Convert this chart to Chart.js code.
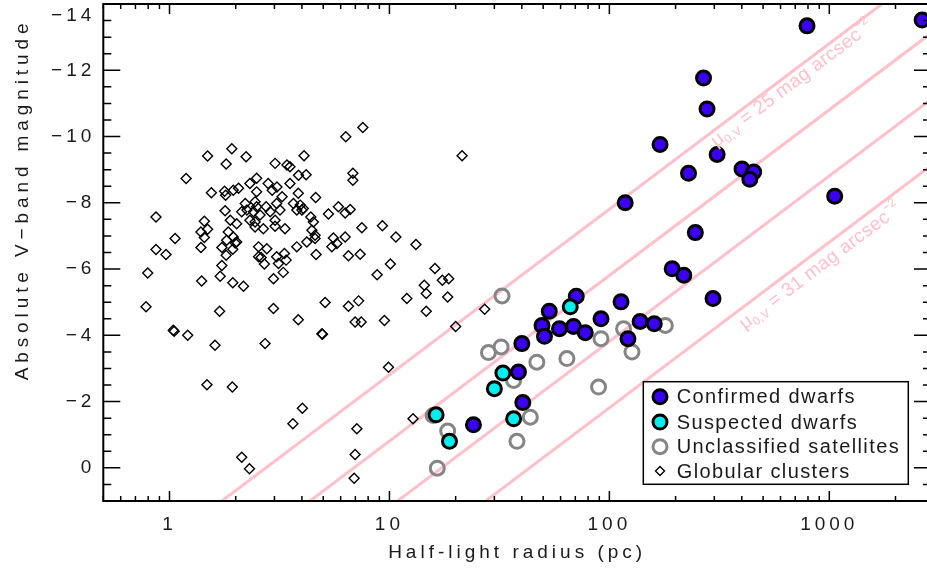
<!DOCTYPE html>
<html><head><meta charset="utf-8">
<script src="https://cdn.jsdelivr.net/npm/chart.js@4.4.1/dist/chart.umd.min.js"></script>
<style>html,body{margin:0;padding:0;background:#fff;overflow:hidden;width:927px;height:574px}canvas{display:block}</style>
</head><body>
<canvas id="c" width="933" height="574"></canvas>
<script>
// ---------------- data ----------------
const confirmedR = [792, 2643, 268, 278, 170, 309, 229, 401, 453, 435, 118, 1058, 246, 193, 218, 296, 91.6, 113, 138, 160, 121.5, 70.7, 53.3, 49.4, 50.7, 59.3, 68.7, 77.7, 40.0, 38.6, 40.4, 24.1];
const confirmedM = [-13.34, -13.52, -11.77, -10.83, -9.76, -9.46, -8.89, -9.02, -8.93, -8.71, -8.00, -8.20, -7.10, -6.01, -5.81, -5.11, -4.50, -5.01, -4.42, -4.35, -3.90, -5.18, -4.73, -4.30, -3.97, -4.20, -4.27, -4.08, -3.75, -2.89, -1.97, -1.30];

const suspectedR = [66.4, 32.8, 30.0, 16.3, 36.7, 18.75];
const suspectedM = [-4.86, -2.86, -2.39, -1.60, -1.48, -0.80];

const unclassifiedR = [179.6, 116, 91.6, 126.7, 89.3, 32.5, 32.2, 28.2, 46.8, 64.1, 36.7, 15.8, 43.7, 18.4, 38.0, 16.5];
const unclassifiedM = [-4.30, -4.20, -3.90, -3.50, -2.44, -5.19, -3.65, -3.48, -3.19, -3.30, -2.64, -1.58, -1.53, -1.11, -0.80, 0.01];

const globularR = [6.33, 7.57, 1.92, 1.49, 2.23, 1.81, 3.02, 3.42, 3.53, 4.09, 21.4, 1.19, 2.49, 3.86, 4.18, 6.82, 6.82,
  2.32, 2.81, 3.08, 3.53, 1.55, 1.78, 1.80, 1.95, 2.06, 2.49, 2.93, 3.25, 3.85, 4.62,
  2.21, 2.45, 2.49, 2.75, 3.07, 3.18, 3.66, 3.93, 4.00, 1.79, 2.13, 2.25, 2.41, 2.87, 4.06, 4.39, 4.51, 5.28, 5.86, 6.29, 6.63, 0.868, 2.58, 3.79,
  1.44, 1.39, 1.49, 1.44, 1.89, 1.85, 2.02, 1.95, 1.82, 2.02, 1.06, 2.32, 2.45, 2.45, 2.67, 3.02, 3.02, 3.35, 4.44, 4.59, 4.59, 4.21, 5.56, 6.29, 5.77, 5.47, 7.49, 9.29, 10.7, 13.2, 1.99,
  0.868, 0.964, 1.39, 1.73, 1.81, 1.94, 2.54, 2.77, 3.07, 3.33, 2.54, 3.79, 4.64, 6.51, 7.36, 2.61, 2.70, 3.13, 3.39, 3.29, 2.97,
  0.796, 1.40, 1.73, 1.70, 1.94, 2.17, 10.1, 8.79, 16.1, 17.4, 18.6, 14.4, 14.7, 12.0, 18.4,
  0.782, 1.69, 2.97, 3.85, 5.10, 6.51, 7.24, 6.98, 7.44, 1.04, 1.05, 1.21, 1.61, 2.72, 4.93, 4.96, 9.49, 14.7, 27.1, 20.0,
  1.48, 1.93, 9.90, 4.02, 3.64, 2.13, 2.31, 7.11, 6.98, 6.91, 12.8];
const globularM = [-9.99, -10.27, -9.63, -9.41, -9.39, -9.17, -9.19, -9.14, -9.09, -9.42, -9.42, -8.73, -8.74, -8.83, -8.85, -8.89, -8.68,
  -8.58, -8.58, -8.48, -8.58, -8.30, -8.35, -8.23, -8.38, -8.44, -8.33, -8.38, -8.18, -8.29, -8.16,
  -7.98, -8.03, -7.88, -7.88, -7.98, -7.78, -7.98, -7.93, -7.78, -7.76, -7.73, -7.78, -7.73, -7.73, -7.83, -7.57, -7.42, -7.66, -7.88, -7.69, -7.80, -7.57, -7.63, -7.78,
  -7.44, -7.12, -7.20, -6.95, -7.47, -7.12, -7.37, -6.97, -6.87, -6.82, -6.92, -7.47, -7.42, -7.27, -7.22, -7.47, -7.29, -7.22, -7.17, -7.02, -6.92, -6.82, -6.94, -6.97, -6.77, -6.67, -7.25, -7.31, -6.97, -6.74, -6.79,
  -6.59, -6.44, -6.65, -6.65, -6.42, -6.60, -6.67, -6.61, -6.37, -6.47, -6.37, -6.67, -6.44, -6.40, -6.45, -6.35, -6.15, -6.17, -6.27, -5.90, -5.71,
  -5.88, -5.64, -6.11, -5.78, -5.59, -5.48, -6.15, -5.83, -6.02, -5.66, -5.71, -5.51, -5.26, -5.11, -5.16,
  -4.86, -4.73, -4.81, -4.47, -4.99, -4.88, -5.04, -4.40, -4.40, -4.15, -4.12, -4.00, -3.70, -3.75, -4.05, -4.03, -4.45, -4.73, -4.79, -4.27,
  -2.51, -2.44, -3.04, -1.80, -1.33, -0.32, 0.03, -1.18, -0.40, 0.31, -1.48];

// constant surface-brightness lines (mag arcsec^-2): radius where each line meets M=+1 and M=-14
const muValues = [25, 27, 29, 31];
const muLineRFaint = [1.73, 4.35, 10.9, 27.4];
const muLineRBright = [1734, 4355, 10930, 27450];
const muLabelValues = [25, 31];
const muLabelAnchorR = [279, 366];

const seriesNames = ['Confirmed dwarfs', 'Suspected dwarfs', 'Unclassified satellites', 'Globular clusters'];
const xTickValues = [1, 10, 100, 1000];
const yTickValues = [-14, -12, -10, -8, -6, -4, -2, 0];
const xTitle = 'Half-light radius (pc)';
const yTitle = 'Absolute V\u2212band magnitude';

// ---------------- build ----------------
const zip = (r, m) => r.map((v, i) => ({x: v, y: m[i]}));
const FONT = 'Liberation Sans, Arial, sans-serif';
const TXT = '#1a1a1a';
const PINK = '#ffc0cb';

const datasets = [];
muValues.forEach((mu, i) => {
  datasets.push({
    type: 'line', label: 'mu' + mu,
    data: [{x: muLineRFaint[i], y: 1}, {x: muLineRBright[i], y: -14}],
    borderColor: PINK, borderWidth: 3, pointRadius: 0, fill: false, clip: 0, order: 10
  });
});
datasets.push({type: 'scatter', label: seriesNames[2], data: zip(unclassifiedR, unclassifiedM),
  pointStyle: 'circle', pointRadius: 7, borderWidth: 3, borderColor: '#858585', backgroundColor: 'rgba(0,0,0,0)', order: 8});
datasets.push({type: 'scatter', label: seriesNames[3], data: zip(globularR, globularM),
  pointStyle: 'rectRot', pointRadius: 5, borderWidth: 1.4, borderColor: '#000', backgroundColor: 'rgba(0,0,0,0)', order: 7});
datasets.push({type: 'scatter', label: seriesNames[0], data: zip(confirmedR, confirmedM),
  pointStyle: 'circle', pointRadius: 7, borderWidth: 3, borderColor: '#000', backgroundColor: '#3c00f2', order: 6});
datasets.push({type: 'scatter', label: seriesNames[1], data: zip(suspectedR, suspectedM),
  pointStyle: 'circle', pointRadius: 7, borderWidth: 3, borderColor: '#000', backgroundColor: '#00f0f0', order: 5});

const spacing = {
  id: 'spacing',
  beforeUpdate(c) { c.ctx.letterSpacing = '4px'; },
  beforeLayout(c) { c.ctx.letterSpacing = '4px'; },
  beforeDraw(c) { c.ctx.letterSpacing = '4px'; }
};

const frameTicks = {
  id: 'frameTicks',
  afterDraw(chart) {
    const {ctx, chartArea: a, scales: {x, y}} = chart;
    ctx.save();
    ctx.strokeStyle = '#000';
    ctx.lineWidth = 1.5;
    ctx.beginPath();
    for (let d = -1; d <= 4; d++) {
      for (let k = 1; k <= 9; k++) {
        const v = k * Math.pow(10, d);
        if (v < x.min || v > x.max) continue;
        const px = x.getPixelForValue(v);
        const L = k === 1 ? 10 : 5;
        ctx.moveTo(px, a.bottom); ctx.lineTo(px, a.bottom - L);
        ctx.moveTo(px, a.top); ctx.lineTo(px, a.top + L);
      }
    }
    for (let v = -14; v <= 1.001; v += 0.5) {
      const py = y.getPixelForValue(v);
      const L = (Math.abs(v % 2) < 1e-6) ? 17 : 8;
      ctx.moveTo(a.left, py); ctx.lineTo(a.left + L, py);
      ctx.moveTo(a.right, py); ctx.lineTo(a.right - L, py);
    }
    ctx.stroke();
    ctx.lineWidth = 2;
    ctx.strokeRect(a.left, a.top, a.right - a.left, a.bottom - a.top);
    ctx.restore();
  }
};

const yAxisTitle = {
  id: 'yAxisTitle',
  afterDraw(chart) {
    const {ctx, scales: {y}} = chart;
    ctx.save();
    ctx.translate(22.5, y.getPixelForValue(-8.1));
    ctx.rotate(-Math.PI / 2);
    ctx.font = '19px ' + FONT;
    ctx.letterSpacing = '4.9px';
    ctx.fillStyle = TXT;
    ctx.textAlign = 'center';
    ctx.textBaseline = 'middle';
    ctx.fillText(yTitle, 0, 0);
    ctx.restore();
  }
};

const muLabelBase = [15, 19];
const muLabels = {
  id: 'muLabels',
  afterDatasetsDraw(chart) {
    const {ctx, scales: {x, y}} = chart;
    muLabelValues.forEach((mu, j) => {
      const i = muValues.indexOf(mu);
      const p0 = {x: x.getPixelForValue(muLineRFaint[i]), y: y.getPixelForValue(1)};
      const p1 = {x: x.getPixelForValue(muLineRBright[i]), y: y.getPixelForValue(-14)};
      const ang = Math.atan2(p1.y - p0.y, p1.x - p0.x);
      const ax = x.getPixelForValue(muLabelAnchorR[j]);
      const t = (ax - p0.x) / (p1.x - p0.x);
      const ay = p0.y + t * (p1.y - p0.y);
      ctx.save();
      ctx.translate(ax, ay);
      ctx.rotate(ang);
      ctx.fillStyle = PINK;
      ctx.textBaseline = 'alphabetic';
      ctx.textAlign = 'left';
      ctx.letterSpacing = '0.4px';
      let cx = 0; const base = muLabelBase[j];
      const big = '19px ' + FONT, small = '12px ' + FONT;
      ctx.font = big; ctx.fillText('\u03bc', cx, base); cx += ctx.measureText('\u03bc').width;
      ctx.font = small; ctx.fillText('0,V', cx, base + 4); cx += ctx.measureText('0,V').width;
      ctx.font = big; const mid = ' = ' + mu + ' mag arcsec'; ctx.fillText(mid, cx, base); cx += ctx.measureText(mid).width;
      ctx.font = small; ctx.fillText('\u22122', cx, base - 9);
      ctx.restore();
    });
  }
};

const boxLegend = {
  id: 'boxLegend',
  afterDraw(chart) {
    const {ctx} = chart;
    const L = 643.3, T = 381.7, R = 908.3, B = 484.3;
    ctx.save();
    ctx.fillStyle = '#fff';
    ctx.fillRect(L, T, R - L, B - T);
    ctx.strokeStyle = '#000'; ctx.lineWidth = 1.5;
    ctx.strokeRect(L, T, R - L, B - T);
    const rows = [396.7, 422, 446.7, 471];
    ctx.font = '20px ' + FONT;
    ctx.letterSpacing = '1.4px';
    ctx.textBaseline = 'middle';
    ctx.textAlign = 'left';
    seriesNames.forEach((name, k) => {
      const ds = chart.data.datasets.find(d => d.label === name);
      ctx.strokeStyle = ds.borderColor;
      ctx.fillStyle = ds.backgroundColor;
      ctx.lineWidth = ds.borderWidth;
      Chart.helpers.drawPoint(ctx, {pointStyle: ds.pointStyle, radius: ds.pointStyle === 'rectRot' ? 4.5 : ds.pointRadius, rotation: 0, borderWidth: ds.borderWidth}, 660, rows[k]);
      ctx.fillStyle = TXT;
      ctx.fillText(name, 676.7, rows[k] + 1);
    });
    ctx.restore();
  }
};

new Chart(document.getElementById('c'), {
  type: 'scatter',
  data: {datasets},
  options: {
    responsive: false, animation: false, devicePixelRatio: 1, events: [],
    layout: {autoPadding: false, padding: {left: 0, right: 2, top: 4, bottom: 0}},
    plugins: {legend: {display: false}, tooltip: {enabled: false}},
    scales: {
      x: {
        type: 'logarithmic', min: 0.5, max: 2900,
        grid: {display: false, drawTicks: false}, border: {display: false},
        afterBuildTicks: s => { s.ticks = xTickValues.map(v => ({value: v})); },
        afterFit: s => { s.height = 73; s.paddingLeft = 0; s.paddingRight = 0; },
        ticks: {padding: 12, color: TXT, font: {family: FONT, size: 19}, maxRotation: 0, autoSkip: false,
          callback: v => String(v)},
        title: {display: true, text: xTitle, color: TXT, font: {family: FONT, size: 19}, padding: {top: 0, bottom: 10}}
      },
      y: {
        type: 'linear', min: -14, max: 1, reverse: true,
        grid: {display: false, drawTicks: false}, border: {display: false},
        afterBuildTicks: s => { s.ticks = yTickValues.map(v => ({value: v})); },
        afterFit: s => { s.width = 103.3; s.paddingTop = 0; s.paddingBottom = 0; },
        ticks: {padding: 8, color: TXT, font: {family: FONT, size: 19},
          callback: v => {
            const txt = v < 0 ? '\u2212' + Math.abs(v) : String(v);
            return v === yTickValues[0] ? ['', txt] : txt;  // top label sits just inside the frame
          }},
        title: {display: false}
      }
    }
  },
  plugins: [spacing, frameTicks, yAxisTitle, muLabels, boxLegend]
});
</script>
</body></html>
